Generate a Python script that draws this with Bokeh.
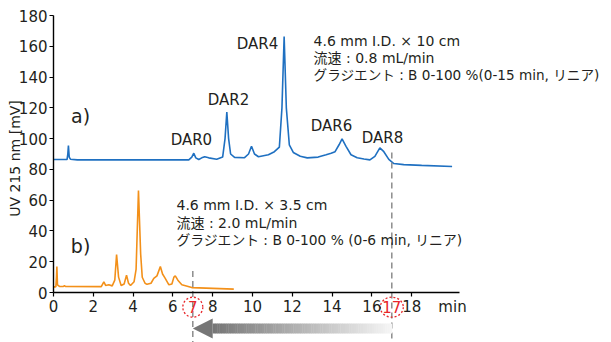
import numpy as np
from bokeh.plotting import figure
from bokeh.models import Range1d, FixedTicker, Label
from bokeh.core.properties import value
from bokeh.embed import file_html
from bokeh.resources import INLINE

# ---- data ----
time_a = [0.0, 0.68, 0.72, 0.75, 0.79, 0.85, 1.2, 6.8, 6.95, 7.05, 7.15, 7.3, 7.45, 7.6, 7.8,
          8.2, 8.5, 8.62, 8.71, 8.8, 8.9, 9.1, 9.6, 9.8, 9.95, 10.1, 10.3, 10.8, 11.1, 11.35,
          11.48, 11.59, 11.7, 11.85, 12.05, 12.4, 12.75, 13.3, 13.7, 13.95, 14.15, 14.35, 14.5,
          14.7, 14.95, 15.26, 15.6, 15.9, 16.15, 16.4, 16.6, 16.85, 17.1, 17.6, 18.5, 20.03]
uv_a = [86.4, 86.4, 90.0, 95.5, 88.0, 86.6, 86.2, 86.2, 88.0, 90.5, 87.5, 86.4, 87.5, 88.2, 87.5,
        86.6, 88.0, 100.0, 117.2, 100.0, 90.0, 87.8, 87.6, 90.0, 95.0, 90.0, 88.2, 89.5, 91.5, 94.5,
        120.0, 166.3, 120.0, 96.0, 91.0, 88.5, 87.5, 88.0, 89.5, 90.5, 91.5, 96.0, 99.8,
        95.0, 89.5, 87.6, 86.8, 86.2, 88.5, 94.0, 91.5, 86.5, 83.8, 83.1, 82.6, 81.9]

time_b = [0.0, 0.12, 0.15, 0.17, 0.2, 0.3, 0.5, 0.55, 0.6, 2.4, 2.47, 2.53, 2.62, 2.78, 2.95,
          3.08, 3.17, 3.27, 3.4, 3.55, 3.67, 3.77, 3.87, 4.05, 4.15, 4.27, 4.38, 4.46, 4.6, 4.7,
          4.9, 5.04, 5.2, 5.37, 5.48, 5.6, 5.8, 5.95, 6.05, 6.12, 6.25, 6.45, 6.95, 9.06]
uv_b = [3.5, 3.8, 10.0, 16.9, 5.0, 4.0, 3.9, 4.5, 3.9, 3.8, 5.5, 6.9, 4.6, 5.0, 4.3,
        8.0, 24.7, 10.0, 4.5, 5.5, 11.3, 6.0, 4.5, 7.0, 15.0, 66.3, 25.0, 9.9, 6.0, 5.3,
        6.0, 9.2, 10.8, 16.9, 12.0, 9.5, 5.0, 5.5, 10.0, 10.8, 8.0, 5.0, 3.2, 2.2]

dar_labels = ["DAR0", "DAR2", "DAR4", "DAR6", "DAR8"]
dar_time = [6.93, 8.79, 10.25, 13.97, 16.53]
dar_level = [99.4, 124.8, 161.8, 107.9, 100.7]

x_ticks = [0, 2, 4, 6, 8, 10, 12, 14, 16, 18]
y_ticks = [0, 20, 40, 60, 80, 100, 120, 140, 160, 180]

marked_times = [7, 17]
marked_labels = ["7", "17"]
dash_top = [14, 91]

cond_a = ["4.6 mm I.D. × 10 cm", "流速 : 0.8 mL/min",
          "グラジエント : B 0-100 %(0-15 min, リニア)"]
cond_b = ["4.6 mm I.D. × 3.5 cm", "流速 : 2.0 mL/min",
          "グラジエント : B 0-100 % (0-6 min, リニア)"]

BLUE = "#1f70c1"
ORANGE = "#f39019"
TXT = "#231f20"
LATIN = "DejaVu Sans"
MIXED = "DejaVu Sans, Noto Sans CJK JP"

X_LO, X_HI = -2.663, 28.04
Y_LO, Y_HI = -32.49, 189.75

p = figure(width=611, height=342, output_backend="svg", toolbar_location=None,
           x_range=Range1d(X_LO, X_HI), y_range=Range1d(Y_LO, Y_HI),
           min_border_left=0, min_border_right=0, min_border_top=0, min_border_bottom=0)
p.grid.visible = False
p.outline_line_color = None
p.background_fill_color = "white"

# axes (both drawn through the origin)
p.xaxis.fixed_location = 0
p.yaxis.fixed_location = 0
p.xaxis.bounds = (0, 20.4)
p.yaxis.bounds = (0, 180)
p.xaxis.ticker = FixedTicker(ticks=x_ticks)
p.yaxis.ticker = FixedTicker(ticks=y_ticks)
for ax in (p.xaxis, p.yaxis):
    ax.axis_line_color = "black"
    ax.axis_line_width = 1.4
    ax.major_tick_line_color = "black"
    ax.major_tick_line_width = 1.2
    ax.major_tick_out = 4
    ax.major_tick_in = 0
    ax.minor_tick_line_color = None
    ax.major_label_text_font = LATIN
    ax.major_label_text_font_size = "15px"
    ax.major_label_text_color = TXT
p.xaxis.major_label_standoff = 3
p.yaxis.major_label_standoff = 2

# chromatograms
p.line(time_a, uv_a, line_color=BLUE, line_width=1.6)
p.line(time_b, uv_b, line_color=ORANGE, line_width=1.6)

# dashed markers
p.segment(x0=marked_times, y0=dash_top, x1=marked_times, y1=[Y_LO] * len(marked_times),
          line_color="#8c8c8c", line_width=1.5, line_dash="6 4")

# gradient arrow from 17 to 7
head_len = 1.0
body_half = 3.25
head_half = 6.5
arrow_y = -23.4
start, end = marked_times[1], marked_times[0]
n = 80
edges = np.linspace(end + head_len, start, n + 1)
dark, light = np.array([118, 118, 118]), np.array([246, 246, 246])
cols = []
for i in range(n):
    f = (i + 0.5) / n
    c = (dark + (light - dark) * f).astype(int)
    cols.append("#%02x%02x%02x" % tuple(c))
p.quad(left=edges[:-1], right=edges[1:] + 0.02, bottom=arrow_y - body_half, top=arrow_y + body_half,
       fill_color=cols, line_color=None)
p.patch([end, end + head_len, end + head_len], [arrow_y, arrow_y + head_half, arrow_y - head_half],
        fill_color="#767676", line_color=None)

# red dashed circles with numbers
p.ellipse(x=marked_times, y=[-9.55] * 2, width=[20, 23], height=[20, 20],
          width_units="screen", height_units="screen", fill_color="white", fill_alpha=0.0,
          line_color="#e8262a", line_width=1.3, line_dash="2 2")
p.text(x=marked_times, y=[-9.55] * 2, text=marked_labels, text_color="#e8262a",
       text_font=value(LATIN), text_font_size="15px", text_align="center", text_baseline="middle")

# "min" unit label
p.text(x=[20.05], y=[-9.55], text=["min"], text_color=TXT, text_font=value(LATIN),
       text_font_size="15px", text_align="center", text_baseline="middle")

# DAR labels
p.text(x=dar_time, y=dar_level, text=dar_labels, text_color=TXT, text_font=value(LATIN),
       text_font_size="15px", text_align="center", text_baseline="middle")

# panel labels
p.text(x=[1.36, 1.36], y=[115.0, 30.5], text=["a)", "b)"], text_color=TXT, text_font=value(LATIN),
       text_font_size="19px", text_align="center", text_baseline="middle")

# condition blocks
p.text(x=[13.07] * 2, y=[163.7, 152.5], text=cond_a[:2], text_color=TXT, text_font=value(MIXED),
       text_font_size="14px", text_align="left", text_baseline="middle")
p.text(x=[13.07], y=[141.6], text=cond_a[2:], text_color=TXT, text_font=value(MIXED),
       text_font_size="13.6px", text_align="left", text_baseline="middle")
p.text(x=[6.18] * 2, y=[57.0, 45.3], text=cond_b[:2], text_color=TXT, text_font=value(MIXED),
       text_font_size="14px", text_align="left", text_baseline="middle")
p.text(x=[6.18], y=[33.8], text=cond_b[2:], text_color=TXT, text_font=value(MIXED),
       text_font_size="13.8px", text_align="left", text_baseline="middle")

# y axis title
p.add_layout(Label(x=-1.91, y=87.1, text="UV 215 nm [mV]", angle=np.pi / 2, text_align="center",
                   text_baseline="middle", text_font=LATIN, text_font_size="14px", text_color=TXT))

open("out.html", "w").write(file_html(p, INLINE))
